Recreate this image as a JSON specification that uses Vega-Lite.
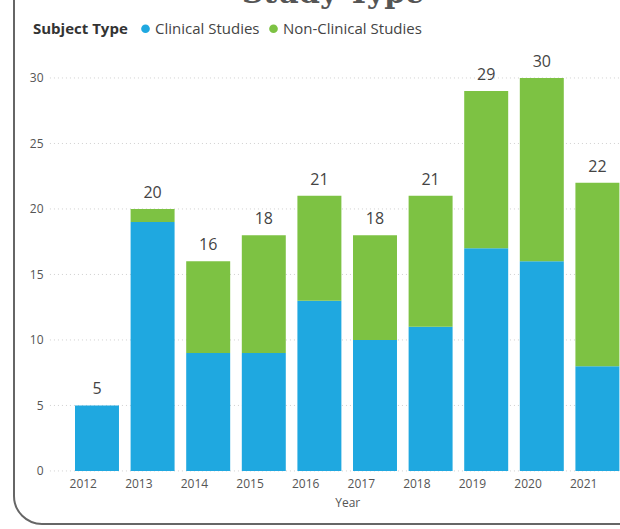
{
  "$schema": "https://vega.github.io/schema/vega-lite/v6.json",
  "width": 666,
  "height": 574,
  "autosize": {"type": "none"},
  "padding": {"left": 14, "top": -50, "right": -60, "bottom": 5},
  "background": "white",
  "title": {
    "text": "Study Type",
    "font": "DejaVu Serif",
    "fontSize": 30,
    "fontWeight": "bold",
    "color": "#555555",
    "anchor": "middle",
    "baseline": "bottom",
    "offset": -89,
    "dx": -14
  },
  "datasets": {
    "studies": [
      {"year": "2012", "type": "Clinical Studies", "count": 5},
      {"year": "2012", "type": "Non-Clinical Studies", "count": 0},
      {"year": "2013", "type": "Clinical Studies", "count": 19},
      {"year": "2013", "type": "Non-Clinical Studies", "count": 1},
      {"year": "2014", "type": "Clinical Studies", "count": 9},
      {"year": "2014", "type": "Non-Clinical Studies", "count": 7},
      {"year": "2015", "type": "Clinical Studies", "count": 9},
      {"year": "2015", "type": "Non-Clinical Studies", "count": 9},
      {"year": "2016", "type": "Clinical Studies", "count": 13},
      {"year": "2016", "type": "Non-Clinical Studies", "count": 8},
      {"year": "2017", "type": "Clinical Studies", "count": 10},
      {"year": "2017", "type": "Non-Clinical Studies", "count": 8},
      {"year": "2018", "type": "Clinical Studies", "count": 11},
      {"year": "2018", "type": "Non-Clinical Studies", "count": 10},
      {"year": "2019", "type": "Clinical Studies", "count": 17},
      {"year": "2019", "type": "Non-Clinical Studies", "count": 12},
      {"year": "2020", "type": "Clinical Studies", "count": 16},
      {"year": "2020", "type": "Non-Clinical Studies", "count": 14},
      {"year": "2021", "type": "Clinical Studies", "count": 8},
      {"year": "2021", "type": "Non-Clinical Studies", "count": 14}
    ],
    "grid": [
      {"v": 0}, {"v": 5}, {"v": 10}, {"v": 15}, {"v": 20}, {"v": 25}, {"v": 30}
    ]
  },
  "layer": [
    {
      "data": {"name": "grid"},
      "mark": {"type": "rule", "stroke": "#d0d0d0", "strokeWidth": 1, "strokeDash": [1, 3]},
      "encoding": {
        "y": {"field": "v", "type": "quantitative"},
        "x": {"datum": "2012", "type": "ordinal", "bandPosition": -0.57},
        "x2": {"value": "width"}
      }
    },
    {
      "data": {"name": "studies"},
      "mark": {"type": "bar"},
      "encoding": {
        "x": {
          "field": "year",
          "type": "ordinal",
          "scale": {"paddingInner": 0.209, "paddingOuter": 1, "range": [5.4, 661]},
          "axis": {
            "title": "Year",
            "labelAngle": 0,
            "orient": "bottom",
            "offset": -53,
            "bandPosition": 0.5,
            "domain": false,
            "ticks": false,
            "labelPadding": 12,
            "labelFont": "Open Sans",
            "labelFontSize": 12,
            "labelColor": "#555555",
            "titleFont": "Open Sans",
            "titleFontSize": 12,
            "titleFontWeight": "normal",
            "titleColor": "#555555",
            "titlePadding": 8
          }
        },
        "y": {
          "field": "count",
          "type": "quantitative",
          "aggregate": "sum",
          "stack": "zero",
          "scale": {"domain": [-4.05, 39.77], "nice": false, "zero": false},
          "axis": {
            "title": null,
            "values": [0, 5, 10, 15, 20, 25, 30],
            "orient": "left",
            "offset": -29,
            "domain": false,
            "ticks": false,
            "grid": false,
            "labelPadding": 0,
            "labelFont": "Open Sans",
            "labelFontSize": 12,
            "labelColor": "#555555"
          }
        },
        "order": {"field": "type", "sort": "ascending"},
        "color": {
          "field": "type",
          "type": "nominal",
          "scale": {
            "domain": ["Clinical Studies", "Non-Clinical Studies"],
            "range": ["#1fa8e0", "#7dc243"]
          },
          "legend": {
            "title": "Subject Type",
            "orient": "none",
            "legendX": 19,
            "legendY": 71,
            "direction": "horizontal",
            "titleOrient": "left",
            "titleFont": "Open Sans",
            "titleFontSize": 15,
            "titleFontWeight": "bold",
            "titleColor": "#333333",
            "titlePadding": 10,
            "labelFont": "Open Sans",
            "labelFontSize": 15,
            "labelColor": "#444444",
            "labelOffset": 2,
            "symbolType": "circle",
            "symbolSize": 75,
            "symbolStrokeWidth": 0,
            "columnPadding": 6
          }
        }
      }
    },
    {
      "data": {"name": "studies"},
      "mark": {
        "type": "text",
        "baseline": "alphabetic",
        "dy": -11,
        "font": "Open Sans",
        "fontSize": 16,
        "color": "#444444"
      },
      "encoding": {
        "x": {"field": "year", "type": "ordinal"},
        "y": {"field": "count", "type": "quantitative", "aggregate": "sum"},
        "text": {"field": "count", "type": "quantitative", "aggregate": "sum"}
      }
    }
  ],
  "config": {
    "view": {"stroke": "#666666", "strokeWidth": 2, "cornerRadius": 28, "fill": "white"}
  }
}
